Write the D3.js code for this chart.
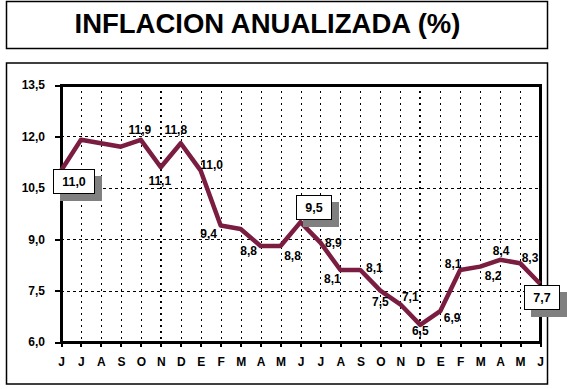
<!DOCTYPE html>
<html>
<head>
<meta charset="utf-8">
<script src="https://cdn.jsdelivr.net/npm/d3@7"></script>
<style>
  html, body { margin: 0; padding: 0; background: #fff; }
  svg { display: block; }
  text { font-family: "Liberation Sans", Arial, sans-serif; font-weight: bold; fill: #000; }
</style>
</head>
<body>
<svg id="chart" width="567" height="389"></svg>
<script>
// ---- data ----
const title = "INFLACION ANUALIZADA (%)";
const months = ["J","J","A","S","O","N","D","E","F","M","A","M","J","J","A","S","O","N","D","E","F","M","A","M","J"];
const inflation = [11.0, 11.9, 11.8, 11.7, 11.9, 11.1, 11.8, 11.0, 9.4, 9.3, 8.8, 8.8, 9.5, 8.9, 8.1, 8.1, 7.5, 7.1, 6.5, 6.9, 8.1, 8.2, 8.4, 8.3, 7.7];
const yTicks = [6.0, 7.5, 9.0, 10.5, 12.0, 13.5];
// indices with boxed labels
const boxedIdx = [0, 12, 24];
// indices with plain labels
const labeledIdx = [4, 5, 6, 7, 8, 10, 11, 13, 14, 15, 16, 17, 18, 19, 20, 21, 22, 23];
// vertical grid lines drawn heavier
const heavyGridIdx = [5, 18];

// ---- layout (label offsets from their point: [dx, dy baseline]) ----
const labelOffset = {
  4: [-1, -6], 5: [-1, 18], 6: [-5, -9], 7: [11, -2], 8: [-12, 13],
  10: [-12, 9], 11: [12, 14], 13: [13, 4], 14: [-8, 13], 15: [14, 2],
  16: [0, 15], 17: [10, -3], 18: [0, 10], 19: [12, 11], 20: [-7, -2],
  21: [13, 13], 22: [1, -5], 23: [10, -1]
};
const boxOffset = { 0: [13, 10], 12: [13.5, -15], 24: [2, 13.5] };

const fmt = v => v.toFixed(1).replace(".", ",");
const svg = d3.select("#chart");

// frames
svg.append("rect").attr("x", 6.5).attr("y", 1.5).attr("width", 541).attr("height", 47)
  .attr("fill", "#fff").attr("stroke", "#000").attr("stroke-width", 1.5);
svg.append("text").attr("x", 267.5).attr("y", 33).attr("text-anchor", "middle")
  .style("font-size", "27.5px").text(title);
svg.append("rect").attr("x", 6.5).attr("y", 63).attr("width", 541).attr("height", 321)
  .attr("fill", "#fff").attr("stroke", "#000").attr("stroke-width", 1.5);

const L = 61, R = 540, T = 85, B = 342;
const x = d3.scaleLinear().domain([0, months.length - 1]).range([L, R]);
const y = d3.scaleLinear().domain([6, 13.5]).range([B, T]);
const px = v => Math.round(v) + 0.5;

// grid
const grid = svg.append("g").attr("shape-rendering", "crispEdges");
grid.selectAll("line.h").data(yTicks.filter(v => v > 6 && v < 13.5)).join("line")
  .attr("x1", L).attr("x2", R).attr("y1", d => px(y(d))).attr("y2", d => px(y(d)))
  .attr("stroke", "#000").attr("stroke-width", 1).attr("stroke-dasharray", "3,3");
grid.selectAll("line.v").data(d3.range(1, months.length - 1)).join("line")
  .attr("x1", d => heavyGridIdx.includes(d) ? Math.round(x(d)) : px(x(d)))
  .attr("x2", d => heavyGridIdx.includes(d) ? Math.round(x(d)) : px(x(d)))
  .attr("y1", T).attr("y2", B)
  .attr("stroke", "#000")
  .attr("stroke-width", d => heavyGridIdx.includes(d) ? 2 : 1)
  .attr("stroke-dasharray", "2,4");

// axes
const yAxis = d3.axisLeft(y).tickValues(yTicks).tickFormat(fmt).tickSize(6).tickPadding(10).tickSizeOuter(0);
const gy = svg.append("g").attr("transform", `translate(${L},0)`).call(yAxis);
const xAxis = d3.axisBottom(x).tickValues(d3.range(months.length)).tickFormat(i => months[i]).tickSize(5).tickPadding(10).tickSizeOuter(0);
const gx = svg.append("g").attr("transform", `translate(0,${B})`).call(xAxis);
[gy, gx].forEach(g => {
  g.selectAll("text").style("font-size", "12px").style("font-family", '"Liberation Sans", Arial, sans-serif').style("font-weight", "bold").attr("fill", "#000");
  g.selectAll(".tick line").attr("stroke", "#000").attr("stroke-width", 2).attr("shape-rendering", "crispEdges");
  g.select(".domain").attr("stroke", "none");
});

// plot border
svg.append("rect").attr("x", L).attr("y", T).attr("width", R - L).attr("height", B - T)
  .attr("fill", "none").attr("stroke", "#000").attr("stroke-width", 3).attr("shape-rendering", "crispEdges");

// series line
const line = d3.line().x((d, i) => x(i)).y(d => y(d));
svg.append("path").datum(inflation).attr("d", line)
  .attr("fill", "none").attr("stroke", "#7b1d40").attr("stroke-width", 4.5)
  .attr("stroke-linejoin", "round");

// plain labels
svg.append("g").selectAll("text").data(labeledIdx).join("text")
  .attr("x", i => x(i) + labelOffset[i][0])
  .attr("y", i => y(inflation[i]) + labelOffset[i][1])
  .attr("text-anchor", "middle").style("font-size", "12px")
  .text(i => fmt(inflation[i]));

// boxed labels
const bg = svg.append("g").selectAll("g").data(boxedIdx).join("g")
  .attr("transform", i => `translate(${Math.round(x(i) + boxOffset[i][0])},${Math.round(y(inflation[i]) + boxOffset[i][1])})`);
bg.each(function(i) {
  const g = d3.select(this);
  const t = fmt(inflation[i]);
  const w = t.length > 3 ? 42 : 36, h = 25;
  g.append("rect").attr("x", -w / 2 + 7).attr("y", -h / 2 + 7).attr("width", w).attr("height", h).attr("fill", "#808080").attr("shape-rendering", "crispEdges");
  g.append("rect").attr("x", -w / 2 + 0.5).attr("y", -h / 2 + 0.5).attr("width", w - 1).attr("height", h - 1)
    .attr("fill", "#fff").attr("stroke", "#000").attr("stroke-width", 1).attr("shape-rendering", "crispEdges");
  g.append("text").attr("x", 0).attr("y", 4.5).attr("text-anchor", "middle").style("font-size", "12.5px").text(t);
});
</script>
</body>
</html>
